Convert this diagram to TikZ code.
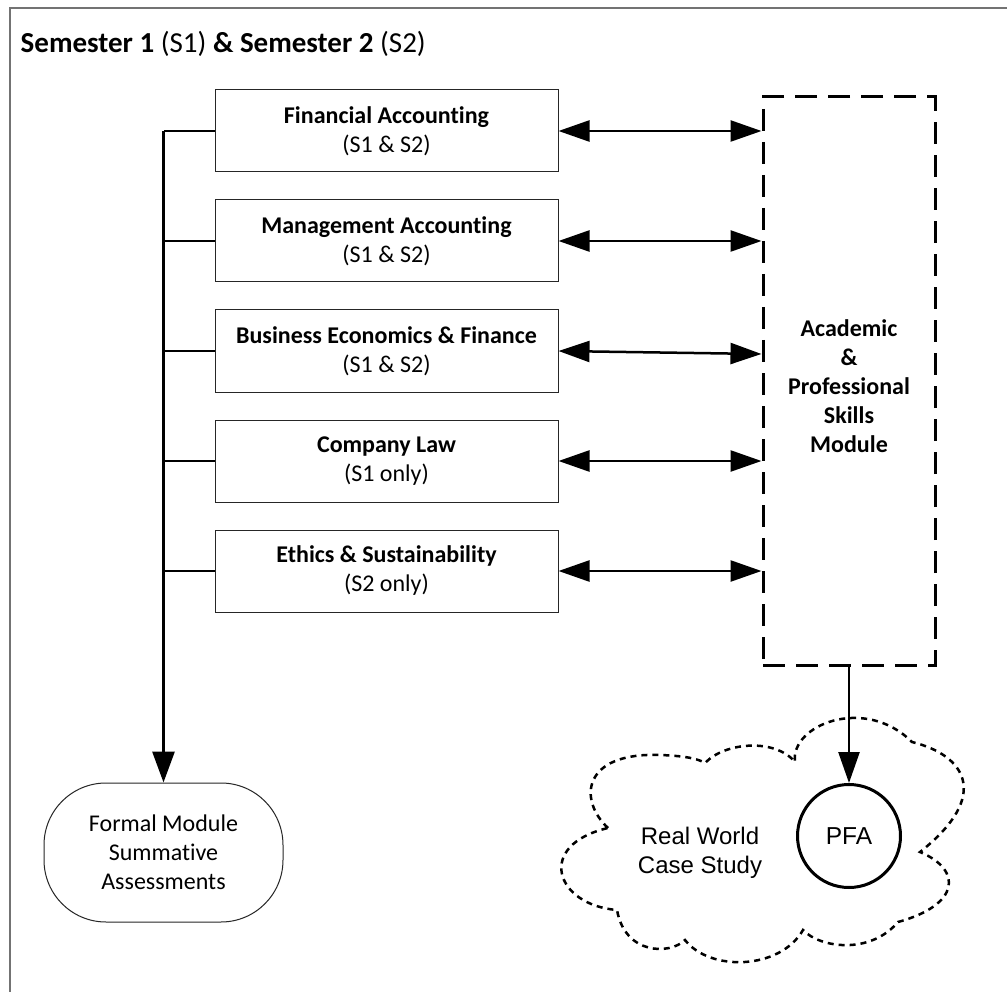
\documentclass[tikz,border=0pt]{standalone}
\usepackage{fontspec}
\setmainfont{Carlito}[Ligatures=NoCommon]
\newfontfamily\arialfont{Liberation Sans}
\usetikzlibrary{arrows.meta}
\tikzset{
  modbox/.style={draw=black!85, line width=1pt, minimum width=343pt, minimum height=82pt, inner sep=0pt, align=center, font=\fontsize{24}{29}\selectfont},
  biarrow/.style={line width=2.5pt, {Triangle[length=31pt,width=21pt]}-{Triangle[length=31pt,width=21pt]}},
  downarrow/.style={line width=2.5pt, -{Triangle[length=31pt,width=21pt]}},
  trunk/.style={line width=3pt},
  branch/.style={line width=2.5pt},
  skillsbox/.style={draw, line width=3pt, dash pattern=on 22pt off 11pt, minimum width=172pt, minimum height=568pt, inner sep=0pt},
  skillstext/.style={align=center, font=\fontsize{24}{29}\selectfont\bfseries},
  cloudline/.style={line width=2.5pt, dash pattern=on 6pt off 5pt},
  terminal/.style={draw=black!85, line width=1pt, rounded corners=62pt, minimum width=239pt, minimum height=139pt, inner sep=0pt, align=center, font=\fontsize{24}{29}\selectfont},
  pfa/.style={draw, circle, line width=3pt, minimum size=103pt, inner sep=0pt, font=\arialfont\fontsize{24.5}{29}\selectfont},
  cloudtext/.style={align=center, font=\arialfont\fontsize{24}{29}\selectfont},
  titletext/.style={anchor=base west, inner sep=0pt, font=\fontsize{29}{35}\selectfont}
}
\begin{document}
\begin{tikzpicture}[x=1pt, y=-1pt]
\useasboundingbox (0,0) rectangle (1007,992);
\fill[white] (0,0) rectangle (1007,992);
\draw[line width=1.5pt, black!55] (10,992) -- (10,8) -- (1007,8);

\node[titletext] (title) at (20.5,53) {\textbf{Semester 1} (S1) \textbf{\& Semester 2} (S2)};

\node[modbox] (fa) at (386.5,131) {\textbf{Financial Accounting}\\(S1 \& S2)};
\node[modbox] (ma) at (386.5,241) {\textbf{Management Accounting}\\(S1 \& S2)};
\node[modbox] (bef) at (386.5,351) {\textbf{Business Economics \& Finance}\\(S1 \& S2)};
\node[modbox] (cl) at (386.5,461) {\textbf{Company Law}\\(S1 only)};
\node[modbox] (es) at (386.5,571) {\textbf{Ethics \& Sustainability}\\(S2 only)};

\node[skillsbox] (apsm) at (849,381) {};
\node[skillstext] (apsmtext) at (849,386) {Academic\\\&\\Professional\\Skills\\Module};

\node[terminal] (fms) at (163.5,852.5) {Formal Module\\Summative\\Assessments};

% cloud
\coordinate (c1) at (608,828);
\coordinate (c2) at (705,763);
\coordinate (c3) at (795,762);
\coordinate (c4) at (912,742);
\coordinate (c5) at (920,852);
\coordinate (c6) at (898,922);
\coordinate (c7) at (803,930);
\coordinate (c8) at (685,940);
\coordinate (c9) at (617,910);
\draw[cloudline] (c1) .. controls (578,800) and (582,752) .. (660,755)
  .. controls (690,756) and (700,760) .. (c2)
  .. controls (725,742) and (775,738) .. (c3)
  .. controls (790,725) and (865,695) .. (c4)
  .. controls (965,755) and (992,795) .. (c5)
  .. controls (963,870) and (960,905) .. (c6)
  .. controls (870,955) and (820,948) .. (c7)
  .. controls (780,970) and (710,972) .. (c8)
  .. controls (670,955) and (625,955) .. (c9)
  .. controls (555,905) and (535,845) .. (c1);

\node[pfa] (pfanode) at (849,836) {PFA};
\node[cloudtext] (rwcs) at (700,853) {Real World\\Case Study};

% left trunk
\coordinate (t1) at (163.5,131);
\draw[branch] (fa.west) -- (t1);
\draw[trunk, -{Triangle[length=31pt,width=22pt]}] (t1) -- (fms.north);
\foreach \b in {ma,bef,cl,es}{
  \draw[branch] (\b.west) -- (\b.west -| t1);
}

% horizontal arrows
\draw[biarrow] (fa.east) -- (fa.east -| apsm.west);
\draw[biarrow] (ma.east) -- (ma.east -| apsm.west);
\coordinate (befr) at ([yshift=-3pt]bef.east -| apsm.west);
\draw[biarrow] (bef.east) -- (befr);
\draw[biarrow] (cl.east) -- (cl.east -| apsm.west);
\draw[biarrow] (es.east) -- (es.east -| apsm.west);

\draw[downarrow] (apsm.south) -- (pfanode.north);
\end{tikzpicture}
\end{document}
